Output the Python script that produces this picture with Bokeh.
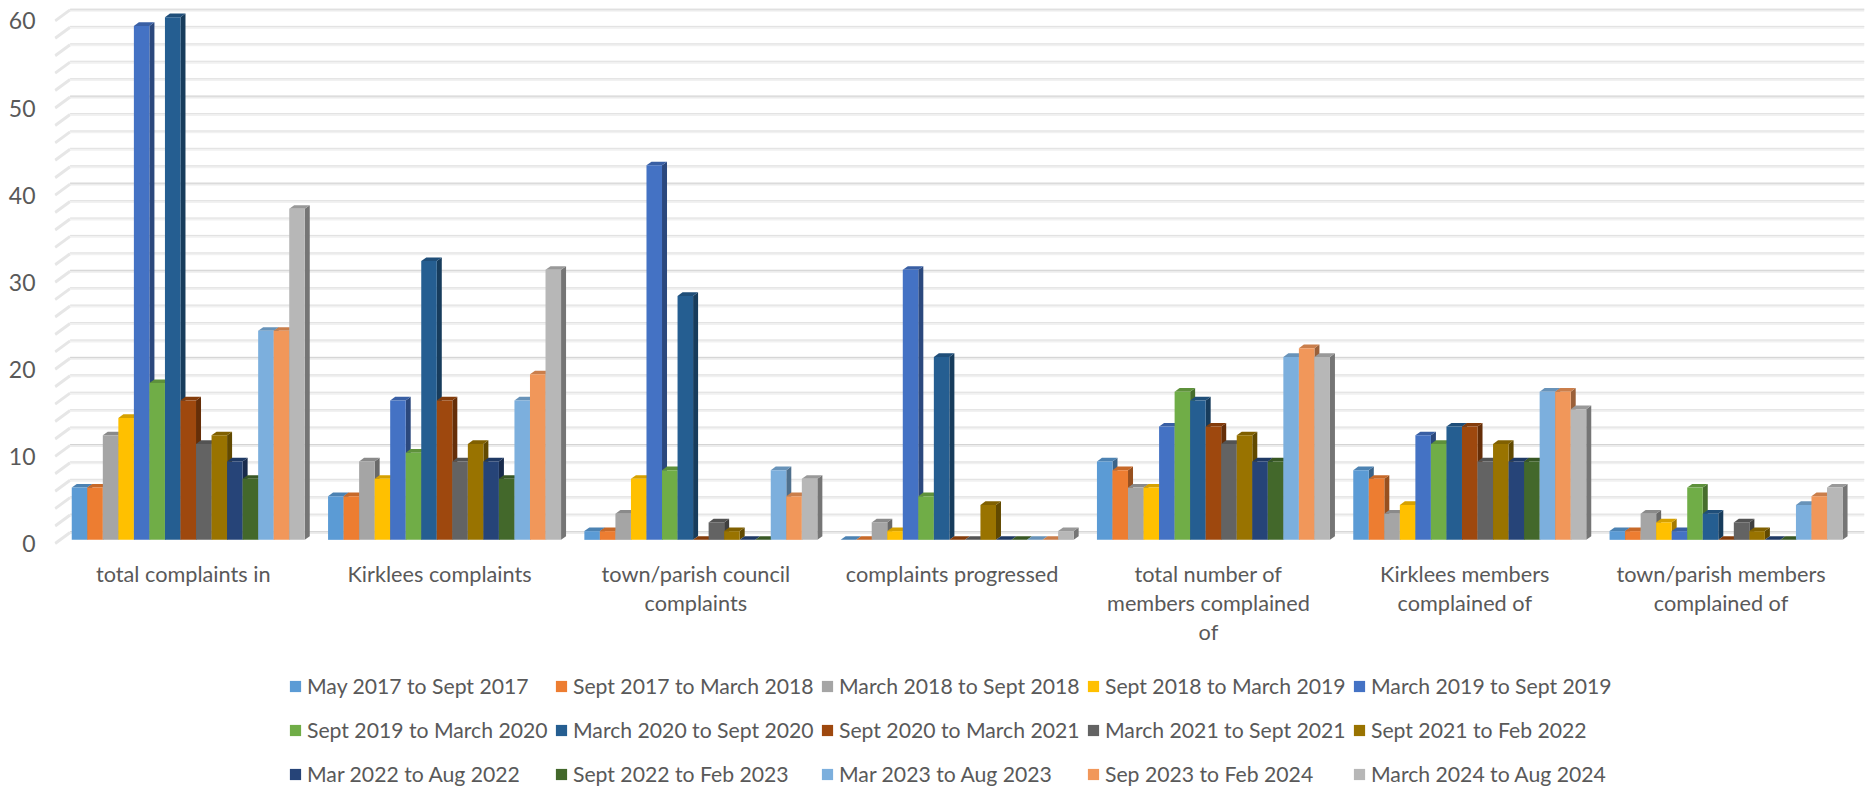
from bokeh.plotting import figure
from bokeh.models import Range1d, FixedTicker, Legend, LegendItem
from bokeh.embed import file_html
from bokeh.resources import INLINE

categories = ["total complaints in", "Kirklees complaints", "town/parish council\ncomplaints",
              "complaints progressed", "total number of\nmembers complained\nof",
              "Kirklees members\ncomplained of", "town/parish members\ncomplained of"]
periods = ["May 2017 to Sept 2017", "Sept 2017 to March 2018", "March 2018 to Sept 2018",
           "Sept 2018 to March 2019", "March 2019 to Sept 2019", "Sept 2019 to March 2020",
           "March 2020 to Sept 2020", "Sept 2020 to March 2021", "March 2021 to Sept 2021",
           "Sept 2021 to Feb 2022", "Mar 2022 to Aug 2022", "Sept 2022 to Feb 2023",
           "Mar 2023 to Aug 2023", "Sep 2023 to Feb 2024", "March 2024 to Aug 2024"]
total_complaints_in = [6, 6, 12, 14, 59, 18, 60, 16, 11, 12, 9, 7, 24, 24, 38]
kirklees_complaints = [5, 5, 9, 7, 16, 10, 32, 16, 9, 11, 9, 7, 16, 19, 31]
town_parish_complaints = [1, 1, 3, 7, 43, 8, 28, 0, 2, 1, 0, 0, 8, 5, 7]
complaints_progressed = [0, 0, 2, 1, 31, 5, 21, 0, 0, 4, 0, 0, 0, 0, 1]
total_members = [9, 8, 6, 6, 13, 17, 16, 13, 11, 12, 9, 9, 21, 22, 21]
kirklees_members = [8, 7, 3, 4, 12, 11, 13, 13, 9, 11, 9, 9, 17, 17, 15]
town_parish_members = [1, 1, 3, 2, 1, 6, 3, 0, 2, 1, 0, 0, 4, 5, 6]
groups = [total_complaints_in, kirklees_complaints, town_parish_complaints, complaints_progressed,
          total_members, kirklees_members, town_parish_members]
y_ticks = [0, 10, 20, 30, 40, 50, 60]
grid_levels = list(range(0, 61, 2))
colors = ["#5B9BD5", "#ED7D31", "#A5A5A5", "#FFC000", "#4472C4", "#70AD47", "#255E91", "#9E480E",
          "#636363", "#997300", "#264478", "#43682B", "#7CAFDD", "#F1975A", "#B7B7B7"]

FONT = "Lato"
TEXT = "#595959"
PX_X = 256.3          # px per category
PX_Y = 8.71           # px per value unit
WALL_X = 15 / PX_X    # floor depth, in x units
WALL_Y = 11 / PX_Y    # floor depth, in y units
BAR = 1 / 16.5
GAP = 0.75 * BAR


def shade(c, f):
    return "#%02x%02x%02x" % tuple(int(int(c[i:i + 2], 16) * f) for i in (1, 3, 5))


FW = 1810
ABOVE, BELOW = 535, 248    # frame pixels above and below the value 0
X0 = -0.6 / PX_X
p = figure(width=1870, height=791, output_backend="svg", toolbar_location=None,
           x_range=Range1d(X0, X0 + FW / PX_X), y_range=Range1d(-BELOW / PX_Y, ABOVE / PX_Y),
           min_border_left=54, min_border_right=6, min_border_top=8, min_border_bottom=0)
p.outline_line_color = None
p.grid.visible = False
p.background_fill_color = None

# walls: slanted side grid + back grid
for v in grid_levels:
    major = v % 10 == 0
    band = "#ececec" if major else "#f1f1f1"
    edge = "#d4d4d4" if major else "#e2e2e2"
    p.line([0, WALL_X], [v, v + WALL_Y], line_color="#e6e6e6", line_width=3)
    p.line([WALL_X, X0 + FW / PX_X], [v + WALL_Y, v + WALL_Y], line_color=band, line_width=3)
    p.line([WALL_X, X0 + FW / PX_X], [v + WALL_Y + 0.1, v + WALL_Y + 0.1], line_color=edge, line_width=1)

renderers = {}
dx, dy = WALL_X / 3, WALL_Y / 3
for s, (name, col) in enumerate(zip(periods, colors)):
    lefts = [g + GAP + dx + s * BAR for g in range(len(groups))]
    vals = [row[s] for row in groups]
    base = dy
    tops = [base + v for v in vals]
    xs_top = [[x, x + BAR, x + BAR + dx, x + dx] for x in lefts]
    ys_top = [[t, t, t + dy, t + dy] for t in tops]
    xs_side = [[x + BAR, x + BAR + dx, x + BAR + dx, x + BAR] for x in lefts]
    ys_side = [[base, base + dy, t + dy, t] for t in tops]
    p.patches(xs_side, ys_side, fill_color=shade(col, 0.64), line_color=None)
    p.patches(xs_top, ys_top, fill_color=shade(col, 0.84), line_color=None)
    renderers[s] = p.vbar(x=[x + BAR / 2 for x in lefts], width=BAR, bottom=base, top=tops,
                          fill_color=col, line_color=None)

p.yaxis.ticker = FixedTicker(ticks=y_ticks)
p.yaxis.axis_line_color = None
p.yaxis.major_tick_line_color = None
p.yaxis.minor_tick_line_color = None
p.yaxis.major_tick_out = 0
p.yaxis.major_label_text_color = TEXT
p.yaxis.major_label_text_font = FONT
p.yaxis.major_label_text_font_size = "23px"
p.yaxis.major_label_standoff = 19

p.xaxis.fixed_location = 0
p.xaxis.ticker = FixedTicker(ticks=[i + 0.5 for i in range(len(categories))])
p.xaxis.major_label_overrides = {i + 0.5: c for i, c in enumerate(categories)}
p.xaxis.axis_line_color = None
p.xaxis.major_tick_line_color = None
p.xaxis.minor_tick_line_color = None
p.xaxis.major_label_text_color = TEXT
p.xaxis.major_label_text_font = FONT
p.xaxis.major_label_text_font_size = "21.7px"
p.xaxis.major_label_text_line_height = 1.13
p.xaxis.major_label_standoff = 11

# the legend fills column by column; order the items so that it reads across the rows
order = [r * 5 + c for c in range(5) for r in range(3)]
items = [LegendItem(label=periods[i], renderers=[renderers[i]]) for i in order]
legend = Legend(items=items, ncols=5, location=(234, -4), padding=0, margin=0, spacing=2,
                glyph_width=14, glyph_height=14, label_standoff=5, label_width=245, label_height=42,
                label_text_font=FONT, label_text_font_size="21.2px", label_text_color=TEXT,
                border_line_color=None, background_fill_color=None, background_fill_alpha=0)
p.add_layout(legend)

open("out.html", "w").write(file_html(p, INLINE))
